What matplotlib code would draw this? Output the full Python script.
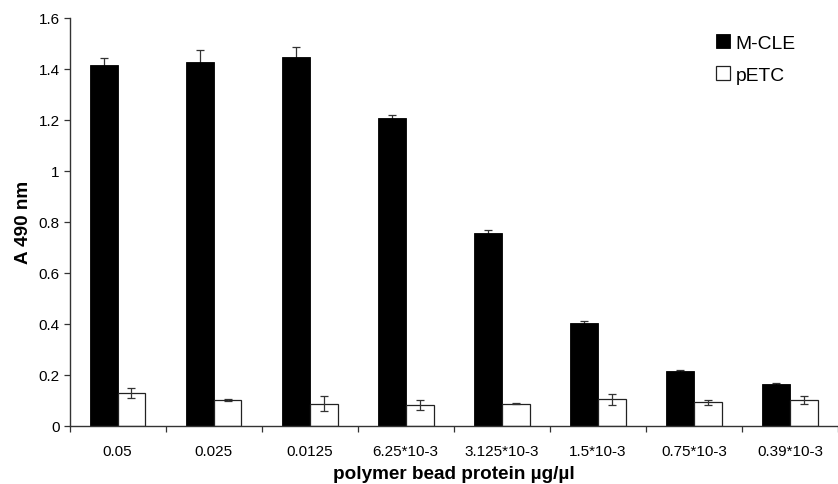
import matplotlib
matplotlib.use("Agg")
import matplotlib.pyplot as plt
import numpy as np

plt.rcParams['font.family'] = ['Liberation Sans', 'DejaVu Sans']

categories = ["0.05", "0.025", "0.0125", "6.25*10-3", "3.125*10-3",
              "1.5*10-3", "0.75*10-3", "0.39*10-3"]
mcle = [1.414, 1.426, 1.447, 1.208, 0.756, 0.402, 0.215, 0.163]
mcle_err = [0.028, 0.046, 0.037, 0.012, 0.010, 0.008, 0.005, 0.003]
petc = [0.128, 0.099, 0.086, 0.081, 0.086, 0.103, 0.091, 0.100]
petc_err = [0.019, 0.004, 0.030, 0.020, 0.002, 0.022, 0.008, 0.015]

fig = plt.figure(figsize=(8.38, 4.85), dpi=100)
ax = fig.add_axes([69.5 / 838, 1 - 426.7 / 485, 1 - 69.5 / 838, (426.7 - 18.7) / 485])

x = np.arange(len(categories))
w = 0.29
ax.bar(x - w / 2, mcle, w, color='black', edgecolor='black', linewidth=0.6,
       label='M-CLE', zorder=2)
ax.bar(x + w / 2, petc, w, color='white', edgecolor='#222222', linewidth=0.9,
       label='pETC', zorder=2)
ax.errorbar(x - w / 2, mcle, yerr=mcle_err, fmt='none', ecolor='#333333',
            elinewidth=0.9, capsize=3, capthick=0.9, zorder=1)
ax.errorbar(x + w / 2, petc, yerr=petc_err, fmt='none', ecolor='#333333',
            elinewidth=0.9, capsize=3, capthick=0.9, zorder=3)

ax.set_xlim(-0.5, (838 - 69.5) / 97 - 0.5)
ax.set_ylim(0, 1.6)
ax.set_yticks([0, 0.2, 0.4, 0.6, 0.8, 1.0, 1.2, 1.4, 1.6])
ax.set_yticklabels(["0", "0.2", "0.4", "0.6", "0.8", "1", "1.2", "1.4", "1.6"],
                   fontsize=11)
ax.set_xticks(x)
ax.set_xticklabels(categories, fontsize=11)
ax.set_xticks(np.arange(len(categories) + 1) - 0.5, minor=True)
ax.tick_params(axis='x', which='major', length=0, pad=13)
ax.tick_params(axis='x', which='minor', length=4, width=0.9, color='#333333')
ax.tick_params(axis='y', length=4, width=0.9, color='#333333', pad=3)

for s in ['top', 'right']:
    ax.spines[s].set_visible(False)
for s in ['left', 'bottom']:
    ax.spines[s].set_color('#333333')
    ax.spines[s].set_linewidth(1.0)

ax.set_ylabel("A 490 nm", fontsize=13.6, fontweight='bold', labelpad=5)
ax.set_xlabel("polymer bead protein µg/µl", fontsize=13.6, fontweight='bold', labelpad=5)

leg = ax.legend(loc='upper left', bbox_to_anchor=((718 - 69.5) / (838 - 69.5) - 0.003, 1 - (35 - 18.7) / 408),
                frameon=False, fontsize=13.9, handlelength=0.72, handleheight=0.72,
                handletextpad=0.3, labelspacing=0.75, borderaxespad=0, borderpad=0)

fig.savefig("out.png", dpi=100)
